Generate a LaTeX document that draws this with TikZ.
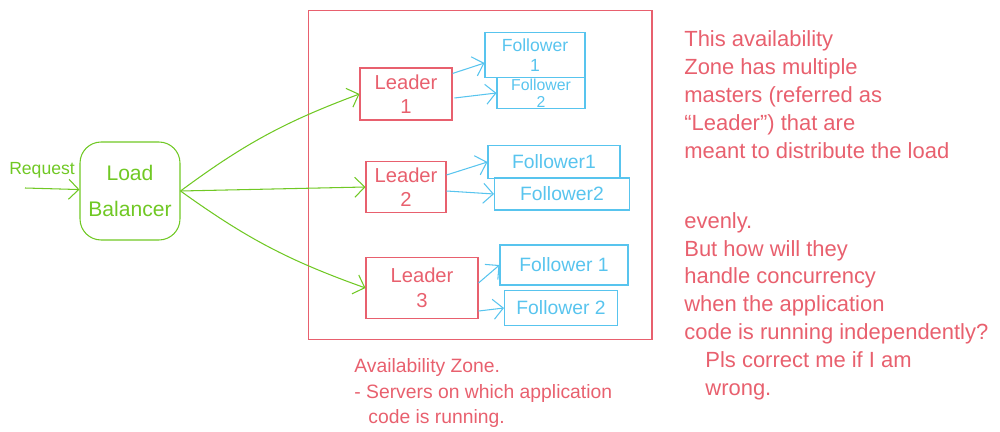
\documentclass[tikz,border=0pt]{standalone}
\usepackage{fontspec}
\setmainfont{Liberation Sans}
\usetikzlibrary{arrows.meta}
\definecolor{pen red}{RGB}{232,96,110}
\definecolor{pen blue}{RGB}{88,196,238}
\definecolor{pen green}{RGB}{112,200,36}
\begin{document}
\begin{tikzpicture}[x=0.02cm, y=-0.02cm, >={Straight Barb[length=2mm]}, align=center, font=\fontsize{11}{13}\selectfont]
\tikzstyle{zone} = [draw=pen red, semithick]
\tikzstyle{leader} = [draw=pen red, semithick, text=pen red, font=\fontsize{11.5}{14}\selectfont]
\tikzstyle{follower} = [draw=pen blue, semithick, text=pen blue, font=\fontsize{11}{13}\selectfont]
\tikzstyle{lb} = [draw=pen green, semithick, rounded corners=12pt, text=pen green, font=\fontsize{12}{16}\selectfont]
\tikzstyle{eg} = [->, draw=pen green, semithick]
\tikzstyle{eb} = [->, draw=pen blue, semithick]
\tikzstyle{note} = [text=pen red, align=left, inner sep=0pt]

\useasboundingbox (0,0) rectangle (1000,432);

\node[zone, minimum width=6.88cm, minimum height=6.6cm] (Z) at (480,175) {};

\node[lb, minimum width=2.0cm, minimum height=1.96cm] (LB) at (130,191) {Load\\[4pt]Balancer};
\node[text=pen green, font=\fontsize{10}{12}\selectfont] (Req) at (42,170) {Request};
\coordinate (In) at (25,188);

\node[leader, minimum width=1.84cm, minimum height=1.04cm] (L1) at (406,94) {Leader\\1};
\node[leader, minimum width=1.6cm, minimum height=0.94cm] (L2) at (406,187) {Leader\\2};
\node[leader, minimum width=2.24cm, minimum height=1.22cm] (L3) at (422,288) {Leader\\3};

\node[follower, minimum width=2.0cm, minimum height=0.9cm, inner sep=1pt, font=\fontsize{10}{11}\selectfont] (F11) at (535,55) {Follower\\1};
\node[follower, minimum width=1.76cm, minimum height=0.52cm, inner sep=1pt, font=\fontsize{9}{9.5}\selectfont] (F12) at (541,93) {Follower\\2};
\node[follower, minimum width=2.64cm, minimum height=0.66cm] (F21) at (554,162) {Follower1};
\node[follower, minimum width=2.7cm, minimum height=0.64cm] (F22) at (562,194) {Follower2};
\node[follower, minimum width=2.56cm, minimum height=0.8cm] (F31) at (564,265) {Follower 1};
\node[follower, minimum width=2.26cm, minimum height=0.7cm] (F32) at (561,308) {Follower 2};

\draw[eg] (In) to (LB);
\draw[eg] (LB.east) to[bend left=8] (L1.west);
\draw[eg] (LB.east) to (L2.west);
\draw[eg] (LB.east) to[bend right=8] (L3.west);

\draw[eb] (L1.north east) ++(0,6) coordinate (a1) -- (F11.west |- 0,63);
\draw[eb] (L1.east) ++(2,4) coordinate (a2) -- (F12.west);
\draw[eb] (L2.north east) ++(0,14) coordinate (b1) -- (F21.west);
\draw[eb] (L2.east) ++(0,4) coordinate (b2) -- (F22.west);
\draw[eb] (L3.east) ++(0,-5) coordinate (c1) -- (F31.west);
\draw[eb] (L3.south east) ++(0,-8) coordinate (c2) -- (F32.west);

\node[note, anchor=north west] (Cap) at (354,358) {Availability Zone.\\[2pt]- Servers on which application\\[1pt]\hspace*{8pt}code is running.};

\node[note, anchor=north west, font=\fontsize{12.5}{15.9}\selectfont] (Txt) at (684,30) {This availability\\
Zone has multiple\\
masters (referred as\\
``Leader'') that are\\
meant to distribute the load\\[24pt]
evenly.\\
But how will they\\
handle concurrency\\
when the application\\
code is running independently?\\
\hspace*{12pt}Pls correct me if I am\\
\hspace*{12pt}wrong.};
\end{tikzpicture}
\end{document}
